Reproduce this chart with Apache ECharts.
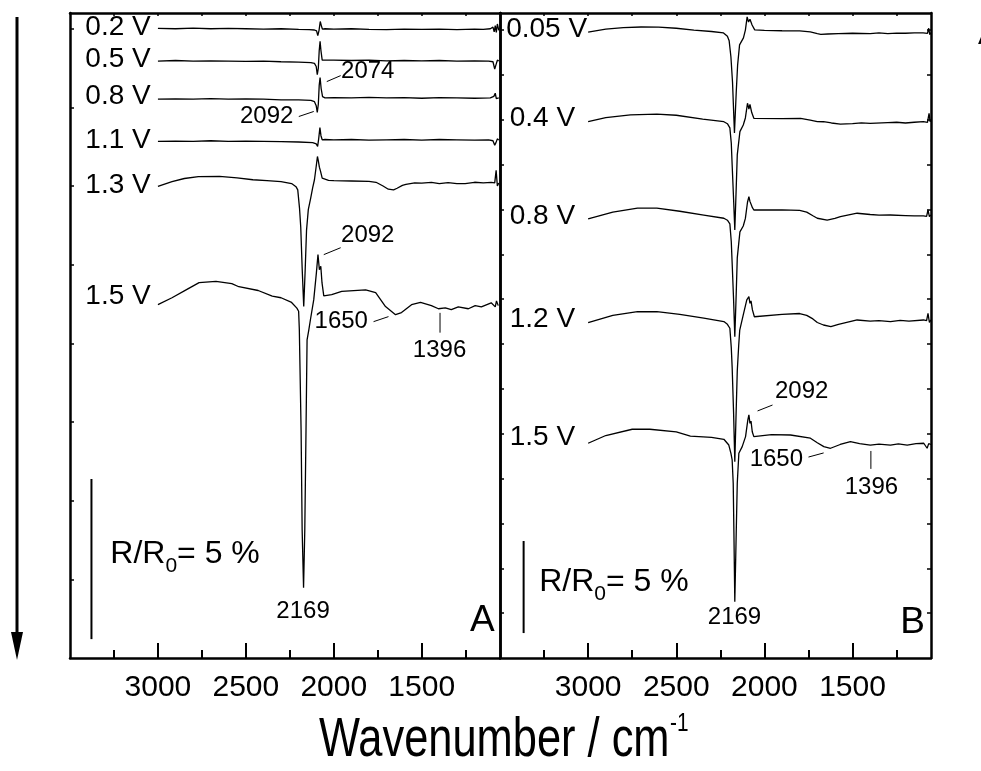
<!DOCTYPE html>
<html>
<head>
<meta charset="utf-8">
<script src="https://cdn.jsdelivr.net/npm/echarts@6/dist/echarts.min.js"></script>
<style>
  html, body { margin: 0; padding: 0; background: #fff; }
  #chart { width: 981px; height: 771px; }
</style>
</head>
<body>
<div id="chart"></div>
<script>
const FONT = "'Liberation Sans', Arial, sans-serif";

// wavenumber ticks (cm-1)
const majorTicks = [1500, 2000, 2500, 3000];
const minorTicks = [1250, 1750, 2250, 2750, 3250];
const allTicks = [1250, 1500, 1750, 2000, 2250, 2500, 2750, 3000, 3250];
// R/R0 ticks (%), no labels
const yTicksA = [2.5, 5, 7.5, 10, 12.5, 15, 17.5, 20];
const yTicksB = [2.5, 5, 7.5, 10, 12.5, 15, 17.5, 20, 22.5, 25, 27.5, 30, 32.5, 35];

// panel A spectra, [wavenumber, stacked R/R0 %]
const a02 = [[3000,20.01],[2900,20.0],[2800,20.02],[2700,20.0],[2600,20.01],[2500,20.0],[2400,19.99],[2300,20.0],[2200,19.98],[2140,19.97],[2110,19.96],[2098,19.93],[2091,19.78],[2084,19.95],[2077,20.23],[2071,20.1],[2065,19.99],[2050,20.0],[2000,19.99],[1900,20.0],[1800,19.98],[1700,19.97],[1600,19.99],[1500,19.98],[1400,19.99],[1300,19.97],[1200,19.99],[1150,19.98],[1110,20.0],[1095,20.05],[1088,19.9],[1082,20.1],[1076,19.88],[1070,20.15],[1062,19.95]];
const a05 = [[3000,18.97],[2900,18.99],[2800,18.97],[2700,18.98],[2600,18.97],[2500,18.96],[2400,18.97],[2300,18.95],[2200,18.94],[2130,18.92],[2110,18.9],[2100,18.8],[2094,18.54],[2088,18.75],[2083,19.3],[2078,19.6],[2073,19.3],[2066,19.0],[2055,18.97],[2000,19.0],[1900,18.99],[1800,19.0],[1700,18.98],[1600,18.99],[1500,18.98],[1400,18.99],[1300,18.97],[1200,18.98],[1120,18.97],[1095,18.95],[1085,18.72],[1078,18.85],[1070,19.0],[1062,18.98]];
const a08 = [[3000,17.76],[2900,17.77],[2800,17.76],[2700,17.78],[2600,17.76],[2500,17.77],[2400,17.76],[2300,17.74],[2200,17.74],[2130,17.72],[2110,17.68],[2100,17.55],[2094,17.34],[2088,17.6],[2083,18.2],[2078,18.45],[2072,18.1],[2064,17.84],[2050,17.8],[2000,17.81],[1900,17.8],[1800,17.82],[1700,17.8],[1600,17.81],[1500,17.79],[1400,17.81],[1300,17.8],[1200,17.79],[1110,17.8],[1090,17.85],[1082,17.95],[1076,17.78],[1068,17.82],[1062,17.8]];
const a11 = [[3000,16.42],[2900,16.43],[2800,16.42],[2700,16.44],[2600,16.42],[2500,16.43],[2400,16.42],[2300,16.41],[2200,16.4],[2120,16.38],[2100,16.34],[2092,16.26],[2086,16.5],[2079,16.86],[2073,16.6],[2066,16.47],[2050,16.48],[2000,16.47],[1900,16.48],[1800,16.46],[1700,16.47],[1600,16.48],[1500,16.46],[1400,16.48],[1300,16.47],[1200,16.46],[1120,16.47],[1095,16.44],[1085,16.3],[1078,16.38],[1070,16.5],[1062,16.46]];
const a13 = [[3000,14.99],[2920,15.14],[2850,15.24],[2770,15.30],[2650,15.31],[2550,15.26],[2460,15.20],[2380,15.17],[2300,15.14],[2240,15.08],[2215,14.98],[2205,14.88],[2195,14.3],[2188,13.7],[2180,12.4],[2171,11.17],[2163,12.3],[2155,13.6],[2145,14.25],[2132,14.6],[2120,14.95],[2110,15.2],[2100,15.63],[2093,15.94],[2088,15.8],[2082,15.6],[2076,15.48],[2066,15.25],[2057,15.2],[2030,15.18],[2000,15.17],[1900,15.16],[1800,15.15],[1760,15.12],[1720,15.0],[1690,14.9],[1660,14.88],[1640,14.93],[1610,15.02],[1590,15.05],[1540,15.1],[1500,15.09],[1445,15.12],[1400,15.08],[1350,15.11],[1300,15.08],[1253,15.08],[1200,15.12],[1150,15.1],[1105,15.12],[1085,15.1],[1077,15.5],[1070,15.0],[1062,15.1]];
const a15 = [[3000,11.23],[2920,11.45],[2840,11.70],[2766,11.93],[2670,11.97],[2580,11.90],[2540,11.8],[2430,11.68],[2350,11.5],[2300,11.45],[2240,11.3],[2210,11.12],[2200,11.02],[2196,10.43],[2186,7.25],[2180,4.07],[2172,2.23],[2165,4.07],[2158,7.25],[2152,10.11],[2142,10.43],[2133,10.75],[2114,11.39],[2099,12.24],[2090,12.82],[2082,12.34],[2074,12.45],[2067,11.92],[2057,11.51],[2012,11.55],[1955,11.65],[1819,11.70],[1762,11.61],[1706,11.17],[1649,10.91],[1615,10.98],[1558,11.23],[1507,11.30],[1445,11.20],[1405,11.10],[1366,11.13],[1332,11.07],[1292,11.16],[1235,11.10],[1196,11.20],[1161,11.16],[1105,11.29],[1082,11.16],[1075,11.35],[1065,11.2]];

// panel B spectra, [wavenumber, stacked R/R0 %]
const b005 = [[3000,34.89],[2900,35.05],[2800,35.14],[2700,35.17],[2600,35.16],[2500,35.1],[2400,35.0],[2300,34.92],[2232,34.84],[2210,34.65],[2200,34.4],[2190,33.5],[2181,32.1],[2170,29.26],[2160,31.5],[2152,33.05],[2141,34.17],[2119,34.56],[2108,35.0],[2098,35.73],[2090,35.45],[2082,35.6],[2070,35.28],[2055,35.01],[2000,34.98],[1900,34.96],[1800,34.95],[1740,34.9],[1700,34.8],[1680,34.76],[1640,34.78],[1580,34.8],[1500,34.82],[1400,34.8],[1350,34.84],[1300,34.8],[1250,34.83],[1200,34.82],[1150,34.84],[1100,34.84],[1075,34.82],[1068,35.1],[1062,34.75],[1055,34.85]];
const b04 = [[3000,29.89],[2900,30.12],[2760,30.27],[2610,30.31],[2500,30.25],[2350,30.03],[2230,29.89],[2210,29.78],[2196,29.55],[2188,28.7],[2183,27.48],[2175,25.6],[2168,23.86],[2160,26.2],[2154,28.04],[2139,29.34],[2120,29.71],[2108,30.1],[2096,30.92],[2088,30.6],[2082,30.85],[2072,30.4],[2060,30.08],[1900,30.06],[1795,30.08],[1740,29.98],[1700,29.9],[1665,29.89],[1620,29.82],[1569,29.76],[1500,29.78],[1450,29.83],[1400,29.8],[1300,29.84],[1250,29.86],[1200,29.82],[1150,29.86],[1098,29.89],[1075,29.85],[1066,30.36],[1060,29.9],[1055,29.95]];
const b08 = [[3000,24.47],[2860,24.85],[2720,25.07],[2610,25.07],[2480,24.9],[2344,24.69],[2230,24.51],[2210,24.4],[2196,24.2],[2188,23.2],[2183,22.0],[2175,20.0],[2168,17.91],[2161,20.0],[2154,22.3],[2139,23.75],[2120,24.08],[2108,24.5],[2096,25.4],[2088,25.71],[2082,25.45],[2076,25.55],[2068,25.1],[2060,24.97],[1900,24.98],[1800,24.95],[1760,24.85],[1725,24.65],[1700,24.51],[1644,24.41],[1600,24.5],[1569,24.6],[1474,24.79],[1400,24.72],[1350,24.68],[1285,24.69],[1200,24.66],[1150,24.64],[1098,24.64],[1080,24.62],[1072,24.97],[1064,24.6],[1055,24.7]];
const b12 = [[3000,18.69],[2860,19.1],[2720,19.30],[2610,19.30],[2480,19.15],[2344,18.94],[2230,18.75],[2210,18.6],[2196,18.38],[2188,17.3],[2183,16.2],[2175,13.7],[2168,10.94],[2161,13.5],[2154,16.0],[2146,17.4],[2140,18.28],[2120,19.12],[2100,19.96],[2088,20.14],[2082,19.77],[2076,19.9],[2068,19.4],[2057,19.02],[1900,19.15],[1800,19.2],[1760,19.1],[1725,18.9],[1700,18.7],[1665,18.56],[1623,18.47],[1580,18.6],[1474,18.84],[1400,18.78],[1350,18.8],[1285,18.75],[1230,18.82],[1180,18.78],[1098,18.84],[1080,18.8],[1072,19.21],[1064,18.7],[1055,18.85]];
const b15 = [[3000,11.97],[2900,12.4],[2750,12.75],[2650,12.75],[2500,12.6],[2420,12.37],[2300,12.3],[2230,12.19],[2202,11.87],[2190,11.4],[2183,11.04],[2177,9.74],[2173,6.95],[2168,3.14],[2163,5.5],[2160,6.95],[2154,9.74],[2145,11.41],[2126,11.78],[2107,12.34],[2094,13.27],[2088,13.55],[2082,13.08],[2076,13.2],[2069,12.61],[2060,12.34],[1960,12.45],[1852,12.43],[1739,12.25],[1700,12.0],[1663,11.78],[1625,11.69],[1570,11.9],[1512,12.06],[1460,11.95],[1399,11.87],[1350,11.92],[1285,11.87],[1240,11.93],[1190,11.87],[1140,11.95],[1096,11.97],[1077,11.69],[1068,11.95],[1055,11.9]];

const spectraA = [a02, a05, a08, a11, a13, a15];
const spectraB = [b005, b04, b08, b12, b15];
const potentialsA = ["0.2 V", "0.5 V", "0.8 V", "1.1 V", "1.3 V", "1.5 V"];
const potentialsB = ["0.05 V", "0.4 V", "0.8 V", "1.2 V", "1.5 V"];
// where each potential label sits: [wavenumber of its right edge, level]
const tagsA = [[3038, 20.02], [3038, 19.0], [3038, 17.84], [3038, 16.44], [3038, 15.01], [3038, 11.47]];
const tagsB = [[3003, 35.03], [3071, 30.04], [3071, 24.58], [3071, 18.84], [3071, 12.29]];

// band assignments with short leader lines
const notesA = [
  { text: "2074", at: [1956, 18.62], align: "left", lead: [[2040, 18.32], [1961, 18.51]] },
  { text: "2092", at: [2227, 17.21], align: "right", lead: [[2199, 17.21], [2114, 17.37]] },
  { text: "2092", at: [1956, 13.41], align: "left", lead: [[2057, 12.82], [1961, 13.04]] },
  { text: "1650", at: [1803, 10.69], align: "right", lead: [[1774, 10.69], [1689, 10.85]] },
  { text: "1396", at: [1396, 9.75], align: "center", lead: [[1396, 10.97], [1396, 10.34]] },
  { text: "2169", at: [2172, 1.46], align: "center" }
];
const notesB = [
  { text: "2092", at: [1937, 14.83], align: "left", lead: [[2039, 13.77], [1954, 14.10]] },
  { text: "1650", at: [1778, 11.06], align: "right", lead: [[1750, 11.20], [1664, 11.43]] },
  { text: "1396", at: [1390, 9.50], align: "center", lead: [[1396, 11.54], [1396, 10.54]] },
  { text: "2169", at: [2167, 2.23], align: "center" }
];
// 5 % scale bars
const barA = [[3378, 0.6], [3378, 5.69]];
const barB = [[3366, 1.39], [3366, 6.52]];
const scaleTextA = [3268, 3.28];
const scaleTextB = [3275, 4.18];
const letterA = [1082, 1.18];
const letterB = [1087, 1.92];

const BLACK = "#000";
const grids = [
  { left: 70, top: 13, width: 430, height: 645 },
  { left: 500, top: 13, width: 431, height: 645 }
];
const yMax = [20.5, 35.95];
const yTicks = [yTicksA, yTicksB];

const xAxes = [];
const yAxes = [];
grids.forEach((g, i) => {
  const base = {
    gridIndex: i, type: "value", inverse: true, min: 1055, max: 3500,
    splitLine: { show: false }
  };
  xAxes.push(Object.assign({}, base, {
    position: "bottom",
    axisLine: { show: true, onZero: false, lineStyle: { color: BLACK, width: 2.5 } },
    axisTick: { show: true, inside: true, length: 15, customValues: majorTicks, lineStyle: { color: BLACK, width: 2 } },
    axisLabel: {
      show: true, customValues: majorTicks, margin: 15, fontSize: 30, fontFamily: FONT, color: BLACK,
      formatter: v => String(v)
    }
  }));
  xAxes.push(Object.assign({}, base, {
    position: "bottom",
    axisLine: { show: false, onZero: false },
    axisTick: { show: true, inside: true, length: 8, customValues: minorTicks, lineStyle: { color: BLACK, width: 2 } },
    axisLabel: { show: false }
  }));
  xAxes.push(Object.assign({}, base, {
    position: "top",
    axisLine: { show: true, onZero: false, lineStyle: { color: BLACK, width: 2.5 } },
    axisTick: { show: true, inside: true, length: 3, customValues: allTicks, lineStyle: { color: BLACK, width: 1.5 } },
    axisLabel: { show: false }
  }));
  ["left", "right"].forEach(side => {
    yAxes.push({
      gridIndex: i, type: "value", min: 0, max: yMax[i], position: side,
      splitLine: { show: false },
      axisLine: { show: true, onZero: false, lineStyle: { color: BLACK, width: 2.5 } },
      axisTick: { show: !(i === 0 && side === "right"), inside: true, length: 4, customValues: yTicks[i], lineStyle: { color: BLACK, width: 1.5 } },
      axisLabel: { show: false }
    });
  });
});

function lineSeries(data, g, width) {
  return {
    type: "line", xAxisIndex: g * 3, yAxisIndex: g * 2, data: data,
    symbol: "none", silent: true, animation: false,
    lineStyle: { color: BLACK, width: width }
  };
}

function textItem(at, text, align, size, rich) {
  return {
    value: at,
    label: {
      show: true, position: [0, 0], align: align, verticalAlign: "middle",
      formatter: text, fontSize: size, fontFamily: FONT, color: BLACK, opacity: 1, rich: rich
    }
  };
}

const ratioRich = {
  r: { fontSize: 32, fontFamily: FONT, color: BLACK },
  s: { fontSize: 21, fontFamily: FONT, color: BLACK, verticalAlign: "bottom", padding: [24, 0, 0, 0] }
};
const ratioText = "{r|R/R}{s|0}{r|= 5 %}";

const series = [];
[[spectraA, potentialsA, tagsA, notesA, barA, scaleTextA, letterA, "A"],
 [spectraB, potentialsB, tagsB, notesB, barB, scaleTextB, letterB, "B"]].forEach((p, g) => {
  const [spectra, pots, tags, notes, bar, scaleText, letter, name] = p;
  spectra.forEach(s => series.push(lineSeries(s, g, 1.3)));
  series.push(lineSeries(bar, g, 2));
  notes.forEach(n => { if (n.lead) series.push(lineSeries(n.lead, g, 1)); });
  const texts = [];
  pots.forEach((t, k) => texts.push(textItem(tags[k], t, "right", 28)));
  notes.forEach(n => texts.push(textItem(n.at, n.text, n.align, 24)));
  texts.push(textItem(scaleText, ratioText, "left", 32, ratioRich));
  texts.push(textItem(letter, name, "right", 37));
  series.push({
    type: "scatter", xAxisIndex: g * 3, yAxisIndex: g * 2, data: texts,
    symbolSize: 1, itemStyle: { color: "rgba(0,0,0,0)" }, silent: true, animation: false, z: 5
  });
});

const chart = echarts.init(document.getElementById("chart"), null, { renderer: "canvas" });
chart.setOption({
  backgroundColor: "#fff",
  animation: false,
  grid: grids,
  xAxis: xAxes,
  yAxis: yAxes,
  series: series,
  graphic: [
    // shared axis title, drawn a little condensed like the original
    { type: "text", x: 319, y: 713, scaleX: 0.775,
      style: { text: "Wavenumber / cm", fontSize: 56, fontFamily: FONT, fill: BLACK, align: "left", verticalAlign: "top" } },
    { type: "text", x: 670, y: 711, scaleX: 0.8,
      style: { text: "-1", fontSize: 26, fontFamily: FONT, fill: BLACK, align: "left", verticalAlign: "top" } },
    // potential-scan arrow
    { type: "line", shape: { x1: 17, y1: 17, x2: 17, y2: 636 }, style: { stroke: BLACK, lineWidth: 3 } },
    { type: "polygon", shape: { points: [[11, 632], [23, 632], [17, 660]] }, style: { fill: BLACK } },
    // clipped letter at the right margin
    { type: "text", x: 978, y: 22,
      style: { text: "A", fontSize: 28, fontFamily: FONT, fill: BLACK, align: "left", verticalAlign: "top" } }
  ]
});
</script>
</body>
</html>
